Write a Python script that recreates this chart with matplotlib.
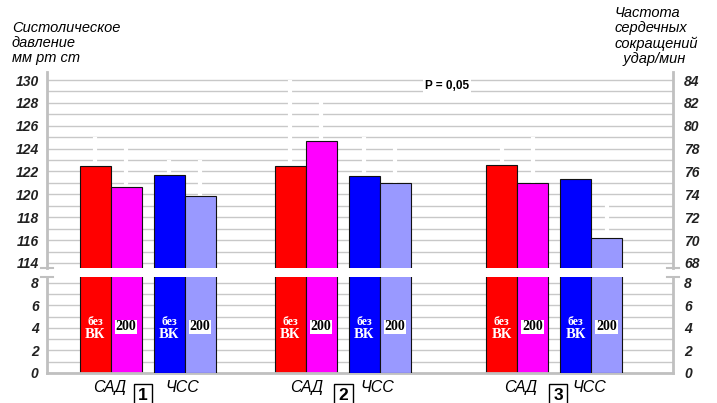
import matplotlib.pyplot as plt
from matplotlib.ticker import FuncFormatter

# Systolic pressure (mm Hg) and heart rate (beats/min), three series of measurements
groups = ["1", "2", "3"]
sad_no_vk = [122.5, 122.5, 122.6]
sad_200 = [120.6, 124.7, 121.0]
hr_no_vk = [75.7, 75.6, 75.3]
hr_200 = [73.9, 75.0, 70.2]

sad_no_vk_err = [2.5, 7.5, 1.6]
sad_200_err = [3.6, 3.6, 4.0]
hr_no_vk_err = [1.3, 3.4, 0.0]
hr_200_err = [3.1, 3.1, 3.1]

sad_lim = (113.56, 130.7)
hr_shift = 46          # right scale = left scale - 46
low_lim = (0, 8.53)

RED, MAGENTA, BLUE, LIGHT = "#ff0000", "#ff00ff", "#0000ff", "#9999ff"
GRID = "#c8c8c8"
SPINE = "#c0c0c0"

plt.rcParams['font.family'] = ['Liberation Sans', 'DejaVu Sans']

fig = plt.figure(figsize=(7.17, 4.03), dpi=100)
W, H = 717, 403
ax_top = fig.add_axes([47 / W, (H - 268) / H, 626 / W, 196 / H])
ax_bot = fig.add_axes([47 / W, (H - 373) / H, 626 / W, 96 / H])
ax_top_r = ax_top.twinx()
ax_bot_r = ax_bot.twinx()

centers = [100.5, 295.5, 507.0]
bw = 31
off = [-52.5, -21.5, 21.5, 52.5]

series = [
    (sad_no_vk, sad_no_vk_err, RED, "left"),
    (sad_200, sad_200_err, MAGENTA, "left"),
    (hr_no_vk, hr_no_vk_err, BLUE, "right"),
    (hr_200, hr_200_err, LIGHT, "right"),
]

for k, (vals, errs, col, side) in enumerate(series):
    xs = [c + off[k] for c in centers]
    top_ax = ax_top if side == "left" else ax_top_r
    bot_ax = ax_bot if side == "left" else ax_bot_r
    top_ax.bar(xs, vals, width=bw, color=col, edgecolor="#111111", linewidth=0.8, zorder=2)
    bot_ax.bar(xs, vals, width=bw, color=col, edgecolor="#111111", linewidth=0.8, zorder=2)
    # white error whiskers above the bars
    tops = [v + e for v, e in zip(vals, errs)]
    top_ax.vlines(xs, vals, tops, color="white", linewidth=3, zorder=1.5)

for ax in (ax_top, ax_bot, ax_top_r, ax_bot_r):
    ax.set_xlim(0, 626)
    ax.set_xticks([])
    ax.tick_params(length=0)
    for s in ax.spines.values():
        s.set_visible(False)

ax_top.set_ylim(*sad_lim)
ax_top_r.set_ylim(sad_lim[0] - hr_shift, sad_lim[1] - hr_shift)
ax_bot.set_ylim(*low_lim)
ax_bot_r.set_ylim(*low_lim)

ax_top.set_yticks(range(114, 131))
ax_top_r.set_yticks(range(68, 85))
ax_bot.set_yticks(range(0, 9))
ax_bot_r.set_yticks(range(0, 9))

even = FuncFormatter(lambda v, p: f"{int(v)}" if int(v) % 2 == 0 else "")
tick_font = dict(fontsize=10, fontweight="bold", fontstyle="italic")
for ax in (ax_top, ax_bot, ax_top_r, ax_bot_r):
    ax.yaxis.set_major_formatter(even)
    for lbl in ax.get_yticklabels():
        lbl.set(**tick_font)
for ax in (ax_top, ax_bot):
    ax.tick_params(axis="y", pad=6, labelcolor="#222222")
for ax in (ax_top_r, ax_bot_r):
    ax.tick_params(axis="y", pad=8, labelcolor="#222222")

for ax in (ax_top, ax_bot):
    ax.set_axisbelow(True)
    ax.yaxis.grid(True, color=GRID, linewidth=1.0)

# axis lines
for ax in (ax_top, ax_bot):
    ax.spines["left"].set_visible(True)
    ax.spines["right"].set_visible(True)
    ax.spines["left"].set(color=SPINE, linewidth=2)
    ax.spines["right"].set(color=SPINE, linewidth=2)
ax_bot.spines["bottom"].set_visible(True)
ax_bot.spines["bottom"].set(color=SPINE, linewidth=2)

# break marks on both vertical axes
d = 6 / 626
for x0 in (0, 1):
    ax_top.plot([x0 - d, x0 + d], [0, 0], transform=ax_top.transAxes, color=SPINE,
                linewidth=1.5, clip_on=False)
    ax_bot.plot([x0 - d, x0 + d], [1, 1], transform=ax_bot.transAxes, color=SPINE,
                linewidth=1.5, clip_on=False)

# in-bar labels (drawn on the front axes so the bars do not cover them)
serif = dict(fontweight="bold", family="Liberation Serif", zorder=5)
for c in centers:
    for k in (0, 2):
        x = c + off[k]
        ax_bot_r.text(x, 4.55, "без", ha="center", va="center", color="white",
                      fontsize=8.5, **serif)
        ax_bot_r.text(x, 3.45, "ВК", ha="center", va="center", color="white",
                      fontsize=10.5, **serif)
    for k in (1, 3):
        x = c + off[k]
        ax_bot_r.text(x, 4.1, "200", ha="center", va="center", color="black",
                      fontsize=10, **serif,
                      bbox=dict(facecolor="white", edgecolor="none", pad=0.5))

ax_top_r.text(400, 129.5 - hr_shift, "P = 0,05", ha="center", va="center", fontsize=8.5,
              fontweight="bold", zorder=5,
              bbox=dict(facecolor="white", edgecolor="none", pad=1.5))

# group captions under the axis
for c, g, (o_sad, o_box) in zip(centers, groups, [(-37.5, -4.5), (-35.5, 1), (-33, 4)]):
    ax_bot.text(c + o_sad, -1.25, "САД", ha="center", va="center", fontsize=11.5,
                fontstyle="italic", clip_on=False)
    ax_bot.text(c + 35, -1.25, "ЧСС", ha="center", va="center", fontsize=11.5,
                fontstyle="italic", clip_on=False)
    ax_bot.text(c + o_box, -2.0, g, ha="center", va="center", fontsize=12.5,
                fontweight="bold", clip_on=False,
                bbox=dict(facecolor="white", edgecolor="black", linewidth=1.0,
                          boxstyle="square,pad=0.25"))

fig.text(12 / W, 1 - 21 / H, "Систолическое\nдавление\nмм рт ст", ha="left", va="top",
         fontsize=10.5, fontstyle="italic", linespacing=1.1)
fig.text(615 / W, 1 - 6 / H, "Частота\nсердечных\nсокращений\n  удар/мин", ha="left",
         va="top", fontsize=10.5, fontstyle="italic", linespacing=1.12)

fig.savefig("out.png", dpi=100)
